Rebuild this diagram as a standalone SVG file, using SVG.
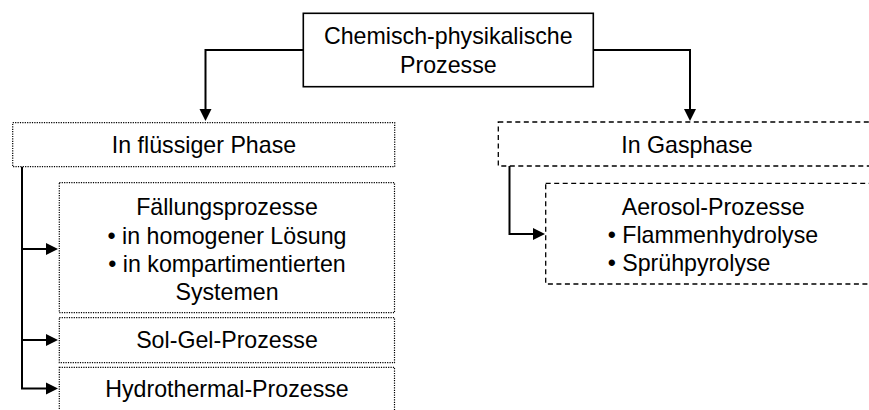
<svg xmlns="http://www.w3.org/2000/svg" width="869" height="410" viewBox="0 0 869 410">
  <style>
    text { font-family: "Liberation Sans", Arial, sans-serif; font-size: 23.2px; fill: #000; }
    .c { text-anchor: middle; }
    .solid { fill: #fff; stroke: #000; stroke-width: 1.6; }
    .dotted { fill: #fff; stroke: #000; stroke-width: 1.2; stroke-dasharray: 1.2 1.2; }
    .dashed { fill: #fff; stroke: #000; stroke-width: 1.3; stroke-dasharray: 5 3.5; }
    .link { fill: none; stroke: #000; stroke-width: 2; }
    .head { fill: #000; }
  </style>
  <rect width="869" height="410" fill="#fff"/>

  <!-- elbow connectors with filled arrowheads -->
  <g id="connectors">
    <path class="link" d="M303,50 H205.5 V109"/>
    <path class="head" d="M199.5,109 L211.5,109 L205.5,121 Z"/>
    <path class="link" d="M593,50 H690 V109"/>
    <path class="head" d="M684,109 L696,109 L690,121 Z"/>
    <path class="link" d="M22,166.7 V388.5"/>
    <path class="link" d="M22,249 H46"/>
    <path class="head" d="M46,243 L46,255 L58,249 Z"/>
    <path class="link" d="M22,340 H46"/>
    <path class="head" d="M46,334 L46,346 L58,340 Z"/>
    <path class="link" d="M21,388.5 H46"/>
    <path class="head" d="M46,382.5 L46,394.5 L58,388.5 Z"/>
    <path class="link" d="M509.5,166 V234 H533"/>
    <path class="head" d="M533,228 L533,240 L545,234 Z"/>
  </g>

  <g id="root">
    <rect class="solid" x="303.3" y="13.3" width="290" height="73.4"/>
    <text class="c" x="448.3" y="44">Chemisch-physikalische</text>
    <text class="c" x="448.3" y="73">Prozesse</text>
  </g>

  <g id="liquid">
    <rect class="dotted" x="12.7" y="122.7" width="382" height="44"/>
    <text class="c" x="204" y="152.5">In flüssiger Phase</text>
  </g>

  <g id="gas">
    <rect class="dashed" x="498.3" y="122" width="390" height="44"/>
    <text class="c" x="687" y="152.5">In Gasphase</text>
  </g>

  <g id="precipitation">
    <rect class="dotted" x="59.3" y="182.7" width="335.2" height="130"/>
    <text class="c" x="227" y="214.5">Fällungsprozesse</text>
    <text class="c" x="227" y="243.5">• in homogener Lösung</text>
    <text class="c" x="227" y="272">• in kompartimentierten</text>
    <text class="c" x="227" y="300">Systemen</text>
  </g>

  <g id="solgel">
    <rect class="dotted" x="59.3" y="317.7" width="335.2" height="45"/>
    <text class="c" x="227" y="348">Sol-Gel-Prozesse</text>
  </g>

  <g id="hydrothermal">
    <rect class="dotted" x="59.3" y="367.3" width="335.2" height="60"/>
    <text class="c" x="227" y="396.5">Hydrothermal-Prozesse</text>
  </g>

  <g id="aerosol">
    <rect class="dashed" x="545.7" y="183.3" width="340" height="100.7"/>
    <text x="621.7" y="214.5">Aerosol-Prozesse</text>
    <text x="607.7" y="243">• Flammenhydrolyse</text>
    <text x="607.7" y="270.5">• Sprühpyrolyse</text>
  </g>
</svg>
